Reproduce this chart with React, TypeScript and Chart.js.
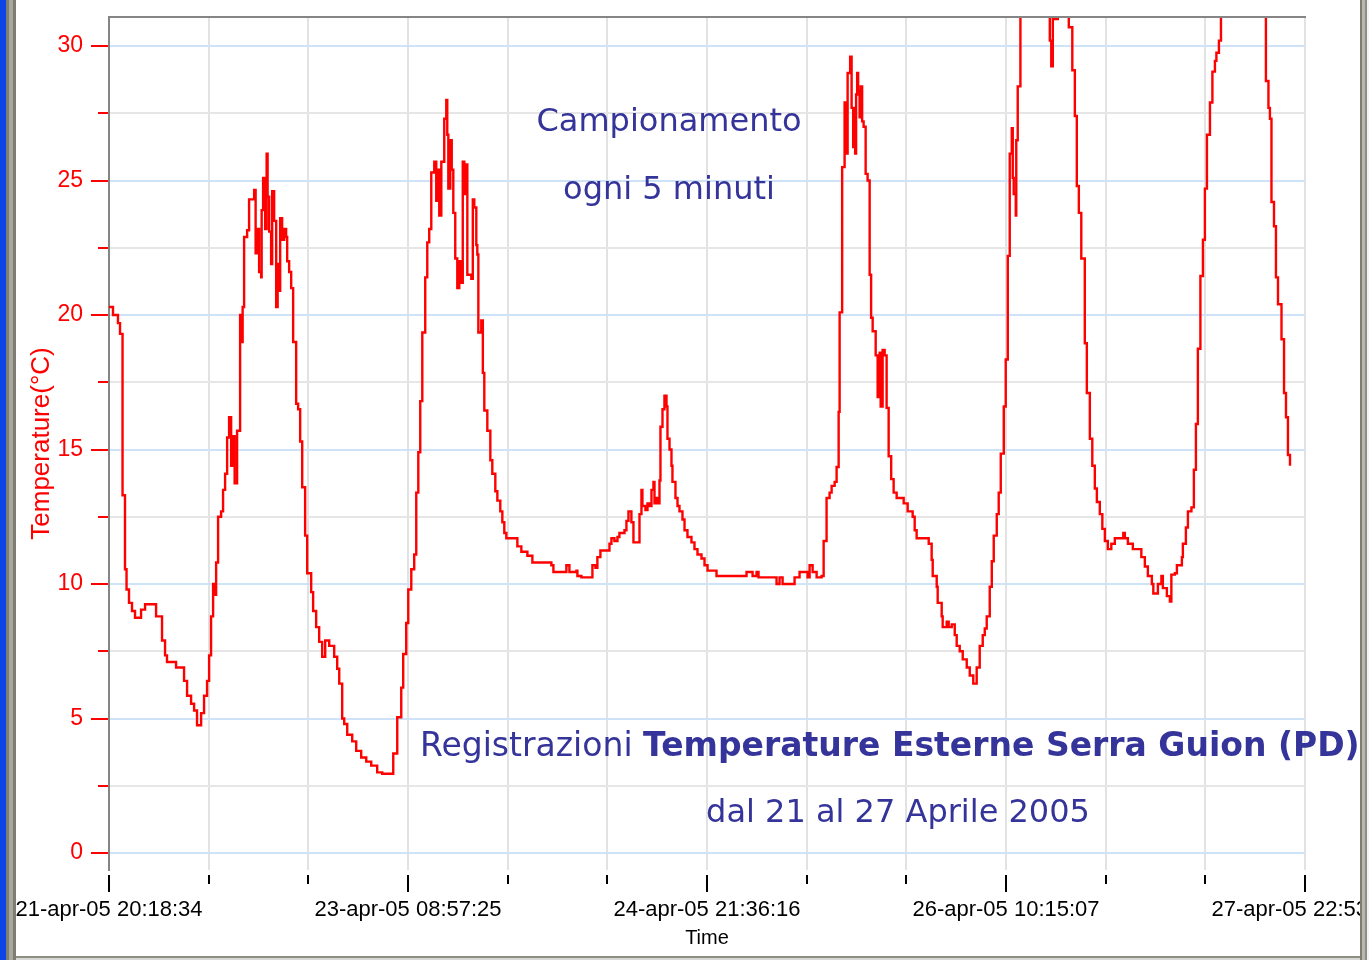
import React, { useEffect, useRef } from 'react';
import { Chart, registerables } from 'chart.js';

Chart.register(...registerables);

// Hours elapsed since 21-apr-05 20:18:34 (5-minute sampling)
const hours = [
  0, 0.37, 0.49, 0.98, 1.10, 1.35, 1.59, 1.66, 1.90, 1.96, 2.15, 2.45, 2.82, 3.19, 3.68, 3.93, 4.42, 5.64, 5.77, 6.38,
  6.50, 6.87, 7.11, 8.22, 9.08, 9.20, 9.57, 10.06, 10.43, 10.79, 11.29, 11.65, 12.02, 12.27, 12.51, 12.76, 13.00, 13.13, 13.37, 13.74,
  13.98, 14.23, 14.48, 14.72, 14.97, 15.21, 15.40, 15.64, 15.70, 15.95, 16.07, 16.25, 16.38, 16.56, 16.81, 16.93, 17.17, 17.54, 17.79, 17.97,
  18.16, 18.40, 18.65, 18.71, 18.89, 19.14, 19.32, 19.44, 19.63, 19.87, 20.00, 20.24, 20.49, 20.67, 20.85, 20.98, 21.22, 21.47, 21.71, 21.84,
  22.08, 22.33, 22.57, 22.94, 23.18, 23.43, 23.68, 24.04, 24.29, 24.78, 25.02, 25.39, 25.76, 26.13, 26.50, 26.99, 27.60, 27.97, 28.22, 28.58,
  28.83, 29.20, 29.81, 30.30, 30.91, 31.53, 32.14, 32.87, 33.49, 34.59, 34.84, 35.33, 35.82, 36.06, 36.43, 36.68, 37.05, 37.41, 37.66, 37.91,
  38.15, 38.40, 38.76, 39.01, 39.25, 39.50, 39.87, 40.11, 40.24, 40.48, 40.73, 40.85, 41.09, 41.34, 41.46, 41.59, 41.83, 42.01, 42.20, 42.44,
  42.69, 42.93, 43.18, 43.36, 43.55, 43.73, 43.92, 44.41, 44.59, 44.77, 45.02, 45.14, 45.27, 45.63, 45.82, 46.00, 46.37, 46.74, 46.98, 47.35,
  47.60, 47.96, 48.21, 48.45, 48.70, 49.68, 50.05, 50.54, 51.28, 51.89, 54.22, 54.47, 55.81, 56.06, 56.43, 57.29, 57.41, 57.90, 59.13, 59.25,
  59.62, 59.86, 60.23, 61.09, 61.34, 61.58, 61.95, 62.32, 62.56, 63.18, 63.42, 63.67, 64.03, 64.28, 64.77, 65.02, 65.26, 65.38, 65.75, 66.00,
  66.24, 66.49, 66.73, 66.86, 67.10, 67.22, 67.47, 67.59, 67.84, 68.08, 68.33, 68.45, 68.70, 68.94, 69.06, 69.43, 69.68, 69.92, 70.29, 70.54,
  70.90, 71.39, 71.76, 72.13, 72.62, 72.99, 73.36, 74.46, 77.65, 78.14, 78.88, 79.37, 79.61, 81.33, 81.82, 82.19, 82.56, 83.78, 84.03, 84.64,
  85.50, 85.62, 85.87, 86.24, 86.73, 87.34, 87.59, 87.95, 88.32, 88.57, 88.94, 89.18, 89.43, 89.55, 89.86, 90.16, 90.35, 90.53, 90.84, 91.02,
  91.21, 91.33, 91.45, 91.57, 91.70, 91.82, 92.00, 92.13, 92.31, 92.49, 92.74, 92.98, 93.23, 93.41, 93.60, 93.97, 94.21, 94.46, 94.58, 94.82,
  95.07, 95.31, 95.56, 95.87, 96.17, 96.54, 97.15, 97.40, 97.89, 98.50, 98.75, 98.99, 100.22, 100.47, 100.83, 100.96, 101.45, 101.57, 102.06, 102.18,
  102.67, 102.92, 103.29, 103.66, 103.90, 104.27, 104.64, 105.13, 105.50, 105.93, 106.35, 106.72, 107.09, 107.34, 107.58, 107.95, 108.20, 108.44, 108.81, 109.05,
  109.30, 109.67, 109.91, 110.16, 110.40, 110.65, 110.77, 110.89, 111.14, 111.20, 111.38, 111.71, 112.36, 114.82, 115.31, 115.49, 115.68, 116.29, 117.15, 117.64,
  118.07, 118.38, 118.62, 118.87, 119.17, 119.60, 119.85, 120.22, 120.52, 120.83, 121.08, 121.44, 121.75, 122.06, 122.42, 122.85, 123.28, 124.26, 124.32, 124.51,
  124.88, 125.49, 126.35, 126.53, 126.96, 127.33, 127.82, 128.00, 128.56, 128.99, 129.17, 129.66, 130.03, 130.21, 130.64, 130.89, 131.50, 131.62, 131.99, 132.24,
  132.67, 132.97, 133.22, 133.46, 133.77, 134.08, 134.32, 134.57, 134.94, 135.24, 135.55, 135.73, 136.04, 136.29, 137.14, 141.07, 141.80, 142.11, 142.29, 142.48,
  142.79, 143.03, 143.28, 143.71, 144.02, 144.26, 144.50, 144.75,
];

// Temperature (°C) at each of the times above
const temps = [
  20.3, 20.3, 20.0, 20.0, 19.7, 19.3, 19.3, 13.3, 13.3, 10.55, 9.8, 9.3, 9.0, 8.75, 8.75, 9.05, 9.25, 9.25, 8.8, 8.8,
  7.9, 7.35, 7.1, 6.9, 6.9, 6.4, 5.85, 5.55, 5.3, 4.75, 5.2, 5.85, 6.4, 7.35, 8.8, 10.0, 9.6, 10.8, 12.5, 12.7,
  13.5, 14.1, 15.45, 16.2, 14.4, 15.5, 13.75, 13.75, 15.7, 15.7, 20.0, 19.0, 20.3, 22.9, 22.9, 23.15, 24.3, 24.3, 24.65, 22.3,
  23.2, 21.6, 21.4, 23.9, 25.1, 23.2, 26.0, 24.4, 23.1, 21.9, 24.6, 23.5, 20.3, 21.9, 20.9, 23.6, 22.8, 23.2, 22.9, 22.0,
  21.6, 21.0, 19.0, 16.7, 16.5, 15.3, 13.6, 11.8, 10.4, 9.7, 9.0, 8.4, 7.85, 7.3, 7.9, 7.7, 7.3, 6.85, 6.3, 5.0,
  4.8, 4.4, 4.15, 3.8, 3.55, 3.4, 3.25, 3.0, 2.95, 2.95, 3.7, 5.05, 6.15, 7.4, 8.55, 9.8, 10.55, 11.1, 13.4, 14.9,
  16.8, 19.35, 21.4, 22.7, 23.2, 25.3, 25.7, 24.25, 25.4, 23.7, 25.7, 25.7, 27.3, 28.0, 26.7, 24.7, 26.5, 25.4, 23.8, 22.1,
  21.0, 22.0, 21.2, 25.7, 24.5, 25.6, 21.5, 21.35, 24.3, 24.0, 22.6, 22.25, 19.35, 19.8, 17.85, 16.45, 15.7, 14.6, 14.1, 13.45,
  13.1, 12.7, 12.3, 11.9, 11.7, 11.7, 11.4, 11.2, 11.05, 10.8, 10.7, 10.45, 10.45, 10.7, 10.45, 10.5, 10.3, 10.25, 10.25, 10.7,
  10.6, 11.0, 11.25, 11.25, 11.5, 11.7, 11.6, 11.75, 11.9, 12.0, 12.35, 12.7, 12.3, 11.55, 11.55, 12.6, 13.5, 12.9, 12.75, 13.0,
  12.9, 13.5, 13.8, 13.0, 13.2, 13.0, 13.85, 15.85, 16.5, 17.0, 16.6, 15.4, 15.0, 14.4, 13.8, 13.2, 12.9, 12.7, 12.4, 12.0,
  11.75, 11.55, 11.3, 11.1, 10.95, 10.7, 10.5, 10.3, 10.3, 10.45, 10.3, 10.45, 10.25, 10.25, 10.0, 10.25, 10.0, 10.0, 10.25, 10.45,
  10.45, 10.25, 10.7, 10.45, 10.25, 10.3, 11.6, 13.2, 13.4, 13.65, 13.8, 14.35, 16.4, 20.1, 25.5, 27.9, 26.0, 29.0, 29.6, 27.7,
  26.25, 27.7, 26.0, 28.2, 29.0, 28.35, 27.35, 28.5, 27.2, 27.0, 25.25, 25.0, 21.5, 19.9, 19.4, 18.5, 16.95, 18.6, 16.6, 18.7,
  18.5, 16.55, 14.75, 13.9, 13.4, 13.2, 13.2, 13.0, 12.7, 12.5, 12.0, 11.7, 11.7, 11.5, 10.9, 10.3, 9.9, 9.3, 8.8, 8.4,
  8.6, 8.4, 8.5, 8.1, 7.7, 7.5, 7.2, 6.9, 6.6, 6.3, 6.9, 7.7, 8.1, 8.35, 8.8, 9.9, 10.85, 11.8, 12.6, 13.4,
  14.85, 16.6, 18.35, 22.2, 26.0, 26.95, 25.1, 24.5, 23.7, 26.5, 28.5, 31.5, 33.0, 33.0, 30.2, 29.25, 31.0, 33.0, 33.0, 30.7,
  29.1, 27.4, 24.8, 23.8, 22.1, 18.95, 17.1, 15.4, 14.4, 13.55, 13.05, 12.6, 12.05, 11.6, 11.3, 11.5, 11.7, 11.7, 11.9, 11.7,
  11.5, 11.3, 11.3, 11.0, 10.65, 10.3, 10.0, 9.65, 10.0, 10.3, 9.85, 9.55, 9.35, 10.35, 10.4, 10.7, 11.0, 11.5, 12.1, 12.7,
  12.85, 14.25, 15.95, 18.75, 21.45, 22.8, 24.7, 26.7, 27.9, 29.05, 29.45, 29.75, 30.2, 31.5, 33.0, 33.0, 28.7, 27.7, 27.3, 24.2,
  23.3, 21.4, 20.4, 19.1, 17.1, 16.2, 14.8, 14.4,
];

// x-axis tick positions (hours) : a major tick every 36h38m51s, two minor ticks between
const xTickHours = [0, 12.216, 24.432, 36.648, 48.864, 61.08, 73.296, 85.512, 97.728, 109.944, 122.16, 134.376, 146.59];
const xMajorLabels = ['21-apr-05 20:18:34', '23-apr-05 08:57:25', '24-apr-05 21:36:16', '26-apr-05 10:15:07', '27-apr-05 22:53:58'];
const yTickValues = [0, 2.5, 5, 7.5, 10, 12.5, 15, 17.5, 20, 22.5, 25, 27.5, 30];
const yLabelValues = [0, 5, 10, 15, 20, 25, 30];

const X_MIN = 0;
const X_MAX = 146.59;
const Y_MIN = -0.63;
const Y_MAX = 31.08;

const RED = '#ff0000';
const TEXT_BLUE = '#34349a';
const AXIS_GRAY = '#858585';

const tickMarksPlugin = {
  id: 'tickMarks',
  afterDraw(chart: any) {
    const { ctx, chartArea, scales } = chart;
    ctx.save();
    ctx.lineWidth = 2;
    // top frame line
    ctx.strokeStyle = AXIS_GRAY;
    ctx.beginPath();
    ctx.moveTo(chartArea.left - 1, chartArea.top);
    ctx.lineTo(chartArea.right + 1, chartArea.top);
    ctx.stroke();
    // y tick marks
    ctx.strokeStyle = RED;
    scales.y.ticks.forEach((t: any) => {
      const py = Math.round(scales.y.getPixelForValue(t.value));
      const len = yLabelValues.includes(t.value) ? 17 : 10;
      ctx.beginPath();
      ctx.moveTo(chartArea.left - 1 - len, py);
      ctx.lineTo(chartArea.left - 1, py);
      ctx.stroke();
    });
    // x tick marks
    ctx.strokeStyle = '#000000';
    scales.x.ticks.forEach((t: any, i: number) => {
      const px = Math.round(scales.x.getPixelForValue(t.value));
      const len = i % 3 === 0 ? 17 : 9;
      ctx.beginPath();
      ctx.moveTo(px, chartArea.bottom + 5);
      ctx.lineTo(px, chartArea.bottom + 5 + len);
      ctx.stroke();
    });
    ctx.restore();
  },
};

export default function App() {
  const canvasRef = useRef<HTMLCanvasElement | null>(null);

  useEffect(() => {
    if (!canvasRef.current) return;
    const data = hours.map((h, i) => ({ x: h, y: temps[i] }));
    const chart = new Chart(canvasRef.current, {
      type: 'line',
      data: {
        datasets: [
          {
            data,
            borderColor: RED,
            borderWidth: 2.4,
            pointRadius: 0,
            tension: 0,
            stepped: 'before',
            clip: 0,
          } as any,
        ],
      },
      options: {
        animation: false,
        responsive: false,
        devicePixelRatio: 1,
        layout: { padding: { left: 0, top: 17, right: 195, bottom: 0 } },
        plugins: {
          legend: { display: false },
          tooltip: { enabled: false },
        },
        scales: {
          x: {
            type: 'linear',
            min: X_MIN,
            max: X_MAX,
            afterBuildTicks: (scale: any) => {
              scale.ticks = xTickHours.map((v) => ({ value: v }));
            },
            afterFit: (scale: any) => {
              scale.height = 90;
              scale.paddingLeft = 0;
              scale.paddingRight = 0;
              scale.paddingTop = 0;
              scale.paddingBottom = 0;
            },
            ticks: {
              autoSkip: false,
              maxRotation: 0,
              minRotation: 0,
              padding: 27,
              color: '#000000',
              font: { family: '"Liberation Sans", Arial, sans-serif', size: 22 },
              callback: (_v: any, index: number) => (index % 3 === 0 ? xMajorLabels[index / 3] : ''),
            },
            grid: {
              color: '#e2e2e2',
              lineWidth: 2,
              drawTicks: false,
            },
            border: { display: false },
            title: {
              display: true,
              text: 'Time',
              color: '#000000',
              font: { family: '"Liberation Sans", Arial, sans-serif', size: 20 },
              padding: { top: 0, bottom: 10 },
            },
          },
          y: {
            type: 'linear',
            min: Y_MIN,
            max: Y_MAX,
            afterBuildTicks: (scale: any) => {
              scale.ticks = yTickValues.map((v) => ({ value: v }));
            },
            afterFit: (scale: any) => {
              scale.width = 109;
              scale.paddingLeft = 0;
              scale.paddingRight = 0;
              scale.paddingTop = 0;
              scale.paddingBottom = 0;
            },
            ticks: {
              autoSkip: false,
              padding: 26,
              color: RED,
              font: { family: '"Liberation Sans", Arial, sans-serif', size: 23 },
              callback: (v: any) => (yLabelValues.includes(v) ? String(v) : ''),
            },
            grid: {
              color: (ctx: any) => (ctx.tick && yLabelValues.includes(ctx.tick.value) ? '#cfe3f8' : '#e6e6e6'),
              lineWidth: 2,
              drawTicks: false,
            },
            border: { display: true, color: AXIS_GRAY, width: 2 },
            title: {
              display: true,
              text: 'Temperature(°C)',
              color: RED,
              font: { family: '"Liberation Sans", Arial, sans-serif', size: 26 },
              padding: { top: 26, bottom: 0 },
            },
          },
        },
      },
      plugins: [tickMarksPlugin],
    });
    return () => chart.destroy();
  }, []);

  const annot: React.CSSProperties = {
    position: 'absolute',
    fontFamily: '"DejaVu Sans", Verdana, sans-serif',
    fontSize: 32,
    lineHeight: 1,
    color: TEXT_BLUE,
    whiteSpace: 'nowrap',
  };

  return (
    <div
      style={{
        position: 'fixed',
        left: 0,
        top: 0,
        width: 1369,
        height: 960,
        overflow: 'hidden',
        background: '#ffffff',
      }}
    >
      <canvas ref={canvasRef} width={1500} height={960} style={{ position: 'absolute', left: 0, top: 0, width: 1500, height: 960 }} />
      <div style={{ ...annot, left: 669, top: 104, transform: 'translateX(-50%)' }}>Campionamento</div>
      <div style={{ ...annot, left: 669, top: 172, transform: 'translateX(-50%)' }}>ogni 5 minuti</div>
      <div style={{ ...annot, left: 420, top: 728, fontSize: 33 }}>
        Registrazioni <b>Temperature Esterne Serra Guion (PD)</b>
      </div>
      <div style={{ ...annot, left: 898, top: 795, transform: 'translateX(-50%)' }}>dal 21 al 27 Aprile 2005</div>
      {/* window frame */}
      <div style={{ position: 'absolute', left: 0, top: 0, width: 6, height: 960, background: '#0b45e4' }} />
      <div style={{ position: 'absolute', left: 6, top: 0, width: 10, height: 960, background: '#a8a89c', borderLeft: '3px solid #7d7d72', borderRight: '3px solid #7d7d72', boxSizing: 'border-box' }} />
      <div style={{ position: 'absolute', left: 1360, top: 0, width: 9, height: 960, background: '#f4f4f4' }} />
      <div style={{ position: 'absolute', left: 1360, top: 0, width: 7, height: 960, background: '#b8b8b0', borderLeft: '2px solid #7d7d72', borderRight: '2px solid #8d8d84', boxSizing: 'border-box' }} />
      <div style={{ position: 'absolute', left: 16, top: 956, width: 1344, height: 4, background: '#d8d8d4', borderTop: '2px solid #8d8d84', boxSizing: 'border-box' }} />
    </div>
  );
}
